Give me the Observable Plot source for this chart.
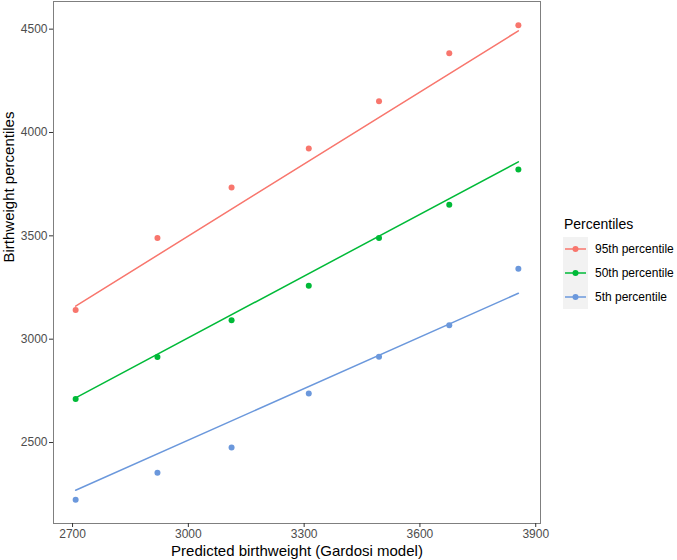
<!DOCTYPE html>
<html><head><meta charset="utf-8">
<script src="https://cdn.jsdelivr.net/npm/d3@7"></script>
<script src="https://cdn.jsdelivr.net/npm/@observablehq/plot@0.6"></script>
<style>
body{margin:0;background:#fff;font-family:"Liberation Sans",Arial,Helvetica,sans-serif;}
#wrap{position:relative;width:677px;height:560px;overflow:hidden;}
#legend{position:absolute;left:0;top:0;}
</style></head><body><div id="wrap"></div>
<script>
const predicted = [2708, 2920, 3112, 3312, 3494, 3676, 3855];
const p95 = [3141, 3490, 3734, 3922, 4151, 4384, 4519];
const p50 = [2710, 2914, 3091, 3258, 3490, 3650, 3821];
const p5 = [2223, 2354, 2476, 2737, 2915, 3067, 3341];
// fitted lines (start and end of each fitted line)
const fitX = [2708, 3855];
const fit95 = [3160, 4492];
const fit50 = [2716, 3858];
const fit5 = [2269, 3222];
const seriesNames = ["95th percentile", "50th percentile", "5th percentile"];
const seriesColors = ["#F8766D", "#00BA38", "#6B98DC"];
const xTicks = [2700, 3000, 3300, 3600, 3900];
const yTicks = [2500, 3000, 3500, 4000, 4500];
const xTitle = "Predicted birthweight (Gardosi model)";
const yTitle = "Birthweight percentiles";
const legendTitle = "Percentiles";

const seriesValues = [p95, p50, p5];
const fitValues = [fit95, fit50, fit5];
const rows = [];
seriesValues.forEach((vals, s) => vals.forEach((v, i) => rows.push({x: predicted[i], y: v, series: seriesNames[s]})));
const fitRows = [];
fitValues.forEach((vals, s) => vals.forEach((v, i) => fitRows.push({x: fitX[i], y: v, series: seriesNames[s]})));

const pad = e => { const d = (e[1] - e[0]) * 0.05; return [e[0] - d, e[1] + d]; };
const xDom = pad(d3.extent(predicted));
const yDom = pad(d3.extent(rows.concat(fitRows), d => d.y));
const font = "'Liberation Sans', Arial, Helvetica, sans-serif";

const chart = Plot.plot({
  width: 677, height: 560,
  marginLeft: 53, marginRight: 137, marginTop: 1, marginBottom: 37,
  style: {fontFamily: font, fontSize: "12px", background: "white", overflow: "visible"},
  x: {domain: xDom},
  y: {domain: yDom},
  color: {domain: seriesNames, range: seriesColors},
  marks: [
    Plot.frame({stroke: "#7f7f7f", strokeWidth: 1}),
    Plot.axisX({ticks: xTicks, tickFormat: d3.format("d"), tickSize: 4, tickPadding: 2, label: null, stroke: "#333", fill: "#4d4d4d", fontSize: 12}),
    Plot.axisY({ticks: yTicks, tickFormat: d3.format("d"), tickSize: 4, tickPadding: 2, label: null, stroke: "#333", fill: "#4d4d4d", fontSize: 12}),
    Plot.text([xTitle], {text: d => d, frameAnchor: "bottom", dy: 28, fontSize: 15, fill: "black", lineAnchor: "middle"}),
    Plot.text([yTitle], {text: d => d, frameAnchor: "left", dx: -44, rotate: -90, fontSize: 15, fill: "black", lineAnchor: "middle"}),
    Plot.line(fitRows, {x: "x", y: "y", stroke: "series", z: "series", strokeWidth: 1.5}),
    Plot.dot(rows, {x: "x", y: "y", fill: "series", r: 3})
  ]
});
const wrap = document.getElementById("wrap");
wrap.appendChild(chart);

// legend
const lg = d3.select(wrap).append("svg").attr("id", "legend").attr("width", 677).attr("height", 560)
  .style("font-family", font);
lg.append("text").attr("x", 564).attr("y", 229).attr("font-size", 14).attr("fill", "black").text(legendTitle);
const keyH = 24, keyTop = 237, keyX = 563, keyW = 25;
lg.append("rect").attr("x", keyX).attr("y", keyTop).attr("width", keyW).attr("height", keyH * seriesNames.length).attr("fill", "#f2f2f2");
seriesNames.forEach((name, i) => {
  const cy = keyTop + keyH * i + keyH / 2;
  lg.append("line").attr("x1", keyX + 2).attr("x2", keyX + keyW - 2).attr("y1", cy).attr("y2", cy)
    .attr("stroke", seriesColors[i]).attr("stroke-width", 1.5);
  lg.append("circle").attr("cx", keyX + keyW / 2).attr("cy", cy).attr("r", 3).attr("fill", seriesColors[i]);
  lg.append("text").attr("x", 595).attr("y", cy).attr("dy", "0.35em").attr("font-size", 12).attr("fill", "black").text(name);
});
</script></body></html>
